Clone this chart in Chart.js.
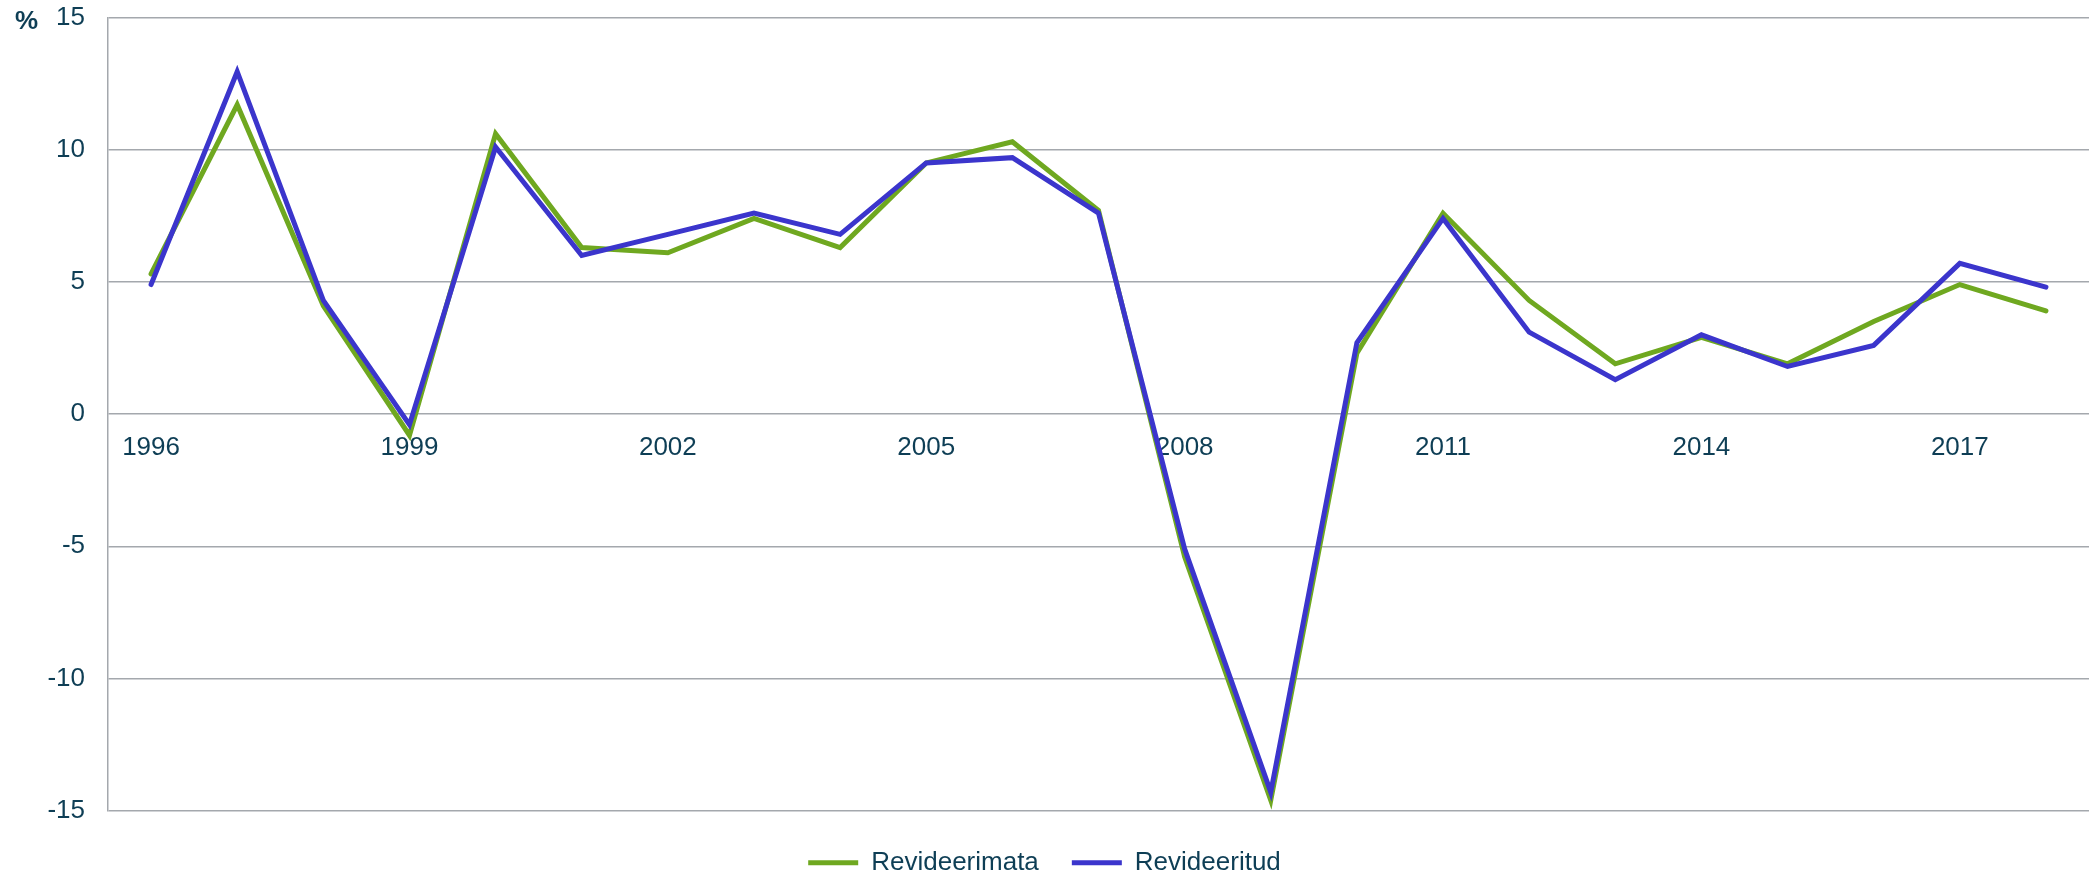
<!DOCTYPE html>
<html>
<head>
<meta charset="utf-8">
<script src="https://cdn.jsdelivr.net/npm/chart.js@4/dist/chart.umd.min.js"></script>
<style>
  html, body { margin: 0; padding: 0; background: #ffffff; }
  #wrap { width: 2089px; height: 878px; position: relative; }
</style>
</head>
<body>
<div id="wrap"><canvas id="c" width="2089" height="878"></canvas></div>
<script>
// ---- data ----
const years = ['1996','1997','1998','1999','2000','2001','2002','2003','2004','2005','2006','2007','2008','2009','2010','2011','2012','2013','2014','2015','2016','2017','2018'];
const tickYears = ['1996','1999','2002','2005','2008','2011','2014','2017'];
const revideerimata = [5.3, 11.7, 4.1, -0.8, 10.6, 6.3, 6.1, 7.4, 6.3, 9.5, 10.3, 7.7, -5.4, -14.6, 2.3, 7.6, 4.3, 1.9, 2.9, 1.9, 3.5, 4.9, 3.9];
const revideeritud  = [4.9, 12.95, 4.3, -0.4, 10.1, 6.0, 6.8, 7.6, 6.8, 9.5, 9.7, 7.6, -5.1, -14.3, 2.7, 7.4, 3.1, 1.3, 3.0, 1.8, 2.6, 5.7, 4.8];
const seriesNames = ['Revideerimata', 'Revideeritud'];
const yMin = -15, yMax = 15, yStep = 5;
const unitLabel = '%';

// ---- styles ----
const textColor = '#0e3e55';
const gridColor = '#a4a8ad';
const greenColor = '#6fa820';
const blueColor = '#3b35cc';
const fontFamily = 'Arial, "Liberation Sans", sans-serif';

const unitPlugin = {
  id: 'unitLabel',
  afterDraw(chart) {
    const ctx = chart.ctx;
    ctx.save();
    ctx.font = 'bold 26px ' + fontFamily;
    ctx.fillStyle = textColor;
    ctx.textAlign = 'left';
    ctx.textBaseline = 'middle';
    ctx.fillText(unitLabel, 15, 22);
    ctx.restore();
  }
};

new Chart(document.getElementById('c'), {
  type: 'line',
  data: {
    labels: years,
    datasets: [
      {
        label: seriesNames[0],
        data: revideerimata,
        borderColor: greenColor,
        backgroundColor: greenColor,
        borderWidth: 5,
        borderCapStyle: 'round',
        borderJoinStyle: 'miter',
        pointRadius: 0,
        pointHoverRadius: 0,
        tension: 0,
        fill: false,
        order: 1
      },
      {
        label: seriesNames[1],
        data: revideeritud,
        borderColor: blueColor,
        backgroundColor: blueColor,
        borderWidth: 5,
        borderCapStyle: 'round',
        borderJoinStyle: 'miter',
        pointRadius: 0,
        pointHoverRadius: 0,
        tension: 0,
        fill: false,
        order: 0
      }
    ]
  },
  options: {
    responsive: false,
    devicePixelRatio: 1,
    animation: false,
    layout: { padding: { top: 17.5, right: 0, bottom: -7.7, left: 0 } },
    scales: {
      x: {
        type: 'category',
        position: { y: 0 },
        offset: true,
        grid: { display: false, drawTicks: false },
        border: { display: false },
        ticks: {
          autoSkip: false,
          maxRotation: 0,
          minRotation: 0,
          padding: 18,
          color: textColor,
          font: { family: fontFamily, size: 26 },
          callback: function (value, index) {
            const y = years[index];
            return tickYears.includes(y) ? y : '';
          }
        }
      },
      y: {
        min: yMin,
        max: yMax,
        position: 'left',
        grid: { color: gridColor, lineWidth: 1.5, drawTicks: true, tickLength: 23, tickColor: 'rgba(0,0,0,0)' },
        border: { display: true, color: gridColor, width: 1.5 },
        ticks: {
          stepSize: yStep,
          padding: 0,
          color: textColor,
          font: { family: fontFamily, size: 26 }
        },
        afterFit: function (scale) { scale.width = 108; }
      }
    },
    plugins: {
      tooltip: { enabled: false },
      legend: {
        display: true,
        position: 'bottom',
        title: { display: true, text: '', font: { size: 1, lineHeight: 1 }, padding: { top: 0, bottom: 5 } },
        labels: {
          usePointStyle: true,
          pointStyle: 'line',
          pointStyleWidth: 50,
          color: textColor,
          font: { family: fontFamily, size: 26 },
          padding: 33,
          sort: (a, b) => a.datasetIndex - b.datasetIndex
        }
      }
    }
  },
  plugins: [unitPlugin]
});
</script>
</body>
</html>
